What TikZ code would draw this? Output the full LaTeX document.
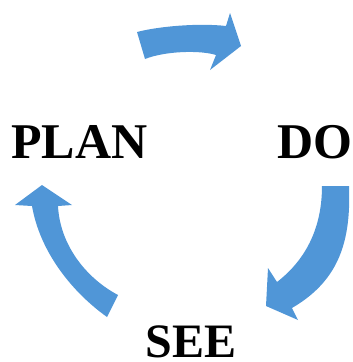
\documentclass[tikz,border=0pt]{standalone}
\usepackage{fontspec}
\setmainfont{Liberation Serif}
\definecolor{arrowblue}{RGB}{80,150,215}
\begin{document}
\begin{tikzpicture}[x=1pt,y=-1pt,
  cyclearrow/.style={fill=arrowblue,draw=none},
  stage/.style={anchor=base west,inner sep=0pt,text=black,font=\bfseries\fontsize{50}{60}\selectfont}]
\useasboundingbox (0,0) rectangle (353,362);
% PLAN -> DO
\fill[cyclearrow] (137,32) .. controls (160,26) and (200,23) .. (226,26)
  -- (230,13) -- (241,46) -- (210,70) -- (216,55)
  .. controls (200,50) and (165,51) .. (145,59) -- cycle;
% DO -> SEE
\fill[cyclearrow] (322,186) -- (349,186)
  .. controls (351,240) and (340,280) .. (292,308)
  -- (298,320) -- (266,306) -- (268,268) -- (277,282)
  .. controls (308,258) and (322,225) .. (322,186) -- cycle;
% SEE -> PLAN
\fill[cyclearrow] (118,295) -- (107,317)
  .. controls (72,292) and (40,252) .. (32,206)
  -- (15,205) -- (42,185) -- (72,205) -- (58,206)
  .. controls (60,245) and (86,278) .. (118,295) -- cycle;
% stage labels
\node[stage] (plan) at (11.2,158) {PLAN};
\node[stage] (do) at (277.2,158) {DO};
\node[stage,font=\bfseries\fontsize{48}{58}\selectfont] (see) at (145.4,357) {SEE};
\end{tikzpicture}
\end{document}
